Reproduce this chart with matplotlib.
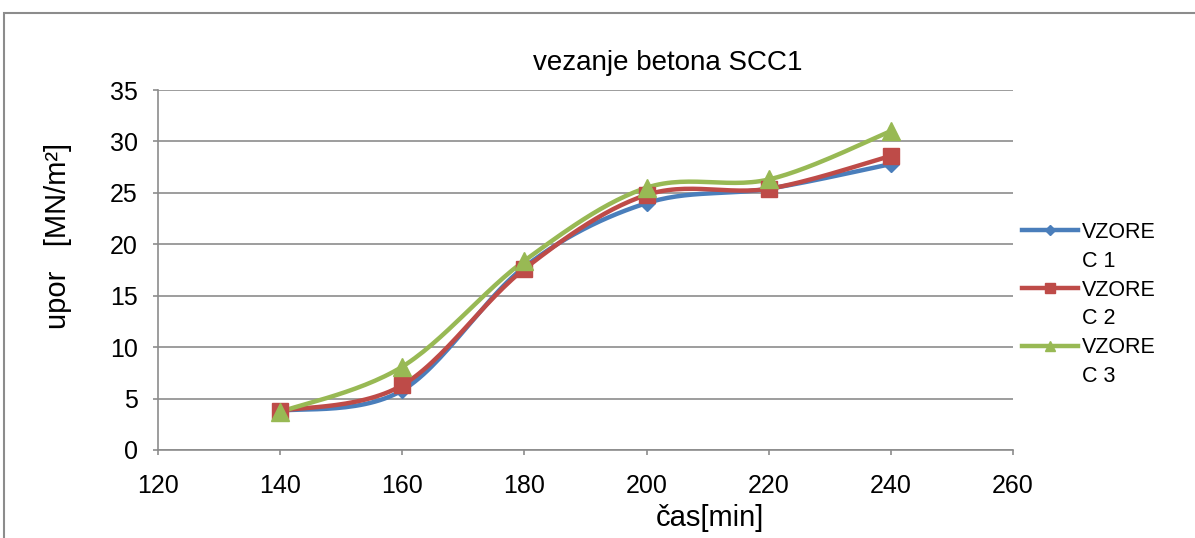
import numpy as np
import matplotlib
matplotlib.use('Agg')
import matplotlib.pyplot as plt
from matplotlib.patches import Rectangle
from matplotlib.lines import Line2D

plt.rcParams['font.family'] = ['Liberation Sans', 'DejaVu Sans']

# data
cas = [140, 160, 180, 200, 220, 240]
vzorec1 = [3.8, 5.8, 17.8, 24.0, 25.4, 27.8]
vzorec2 = [3.8, 6.3, 17.6, 24.8, 25.4, 28.6]
vzorec3 = [3.7, 8.1, 18.4, 25.5, 26.3, 31.0]
nazvy = [('VZORE', 'C 1'), ('VZORE', 'C 2'), ('VZORE', 'C 3')]
barvy = ['#4a7ebb', '#be4b48', '#98b954']
znacky = ['D', 's', '^']
velikosti = [8, 12, 13]


def smooth(x, y, n=30):
    # Catmull-Rom like smoothing (similar to Excel smoothed line)
    x = np.asarray(x, float)
    y = np.asarray(y, float)
    px = np.concatenate([[x[0]], x, [x[-1]]])
    py = np.concatenate([[y[0]], y, [y[-1]]])
    xs, ys = [], []
    for i in range(1, len(px) - 2):
        p0 = np.array([px[i], py[i]])
        p3 = np.array([px[i + 1], py[i + 1]])
        c1 = p0 + (np.array([px[i + 1], py[i + 1]]) - np.array([px[i - 1], py[i - 1]])) / 6
        c2 = p3 - (np.array([px[i + 2], py[i + 2]]) - np.array([px[i], py[i]])) / 6
        t = np.linspace(0, 1, n)[:, None]
        b = (1 - t) ** 3 * p0 + 3 * (1 - t) ** 2 * t * c1 + 3 * (1 - t) * t ** 2 * c2 + t ** 3 * p3
        xs.extend(b[:, 0])
        ys.extend(b[:, 1])
    return xs, ys


fig = plt.figure(figsize=(11.95, 5.38), dpi=100)
ax = fig.add_axes([0.1322, 0.1636, 0.7155, 0.6691])

handles, labels = [], []
for y, nazev, barva, zn, ms in zip([vzorec1, vzorec2, vzorec3], nazvy, barvy, znacky, velikosti):
    sx, sy = smooth(cas, y)
    ax.plot(sx, sy, color=barva, lw=3.2, solid_capstyle='round', zorder=3)
    ax.plot(cas, y, linestyle='none', marker=zn, ms=ms, color=barva, zorder=4)
    # legend: handle on first text row, second row without handle
    handles.append(Line2D([], [], color=barva, lw=3.2, marker=zn, ms=ms * 0.6))
    labels.append(nazev[0])
    handles.append(Line2D([], [], color='none'))
    labels.append(nazev[1])

ax.set_xlim(120, 260)
ax.set_ylim(0, 35)
ax.set_xticks(range(120, 261, 20))
ax.set_yticks(range(0, 36, 5))
ax.grid(axis='y', color='#8c8c8c', lw=1.2)
ax.set_axisbelow(True)
for s in ['top', 'right']:
    ax.spines[s].set_visible(False)
for s in ['left', 'bottom']:
    ax.spines[s].set_color('#8c8c8c')
    ax.spines[s].set_linewidth(1.2)
ax.tick_params(axis='both', labelsize=18, color='#8c8c8c', length=3.6, width=1.2)
ax.tick_params(axis='x', pad=14)
ax.tick_params(axis='y', pad=11)

ax.set_title('vezanje betona SCC1', fontsize=20, x=0.596, y=1.056, pad=0)
ax.set_ylabel('upor   [MN/m²]', fontsize=21)
ax.yaxis.set_label_coords(-0.1006, 0.594)
ax.set_xlabel('čas[min]', fontsize=21)
ax.xaxis.set_label_coords(0.6456, -0.15)

leg = fig.legend(handles, labels, loc='center left', bbox_to_anchor=(0.848, 0.434),
                 frameon=False, fontsize=15.5, handlelength=2.6, labelspacing=0.37,
                 handletextpad=0.2, borderaxespad=0)

# frame of the chart area
fig.patches.append(Rectangle((0.003, -0.1), 1.2, 1.076, transform=fig.transFigure,
                             fill=False, edgecolor='#8c8c8c', lw=1.5))

fig.savefig('out.png', dpi=100)
